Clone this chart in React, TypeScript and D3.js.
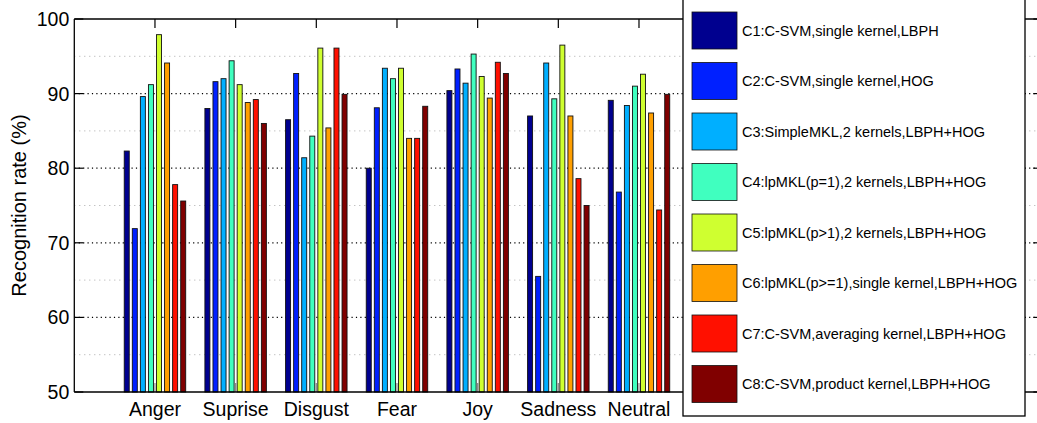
import React from "react";
import * as d3 from "d3";

// emotion categories on the x axis
const categories = ["Anger", "Suprise", "Disgust", "Fear", "Joy", "Sadness", "Neutral"];

// one array per classifier configuration, values in %
const c1 = [82.3, 88.0, 86.5, 80.0, 90.4, 87.0, 89.1];
const c2 = [71.9, 91.6, 92.7, 88.1, 93.3, 65.5, 76.8];
const c3 = [89.6, 92.0, 81.4, 93.4, 91.4, 94.1, 88.4];
const c4 = [91.2, 94.4, 84.3, 92.0, 95.3, 89.3, 91.0];
const c5 = [97.9, 91.2, 96.1, 93.4, 92.3, 96.5, 92.6];
const c6 = [94.1, 88.8, 85.4, 84.0, 89.4, 87.0, 87.4];
const c7 = [77.8, 89.2, 96.1, 84.0, 94.2, 78.6, 74.4];
const c8 = [75.6, 86.0, 89.9, 88.3, 92.7, 75.0, 89.9];
const seriesValues = [c1, c2, c3, c4, c5, c6, c7, c8];

const seriesNames = [
  "C1:C-SVM,single kernel,LBPH",
  "C2:C-SVM,single kernel,HOG",
  "C3:SimpleMKL,2 kernels,LBPH+HOG",
  "C4:lpMKL(p=1),2 kernels,LBPH+HOG",
  "C5:lpMKL(p>1),2 kernels,LBPH+HOG",
  "C6:lpMKL(p>=1),single kernel,LBPH+HOG",
  "C7:C-SVM,averaging kernel,LBPH+HOG",
  "C8:C-SVM,product kernel,LBPH+HOG",
];

// jet colormap samples used by MATLAB for 8 bar series
const seriesColors = ["#00008f", "#0020ff", "#00afff", "#40ffbf", "#cfff30", "#ff9f00", "#ff1000", "#800000"];

const yTicks = [50, 60, 70, 80, 90, 100];
const yMinor = [55, 65, 75, 85, 95];

const W = 1037, H = 423;
const font = "'Liberation Sans', Arial, Helvetica, sans-serif";

export default function App() {
  const left = 74.3, top = 19, bottom = 392;
  const step = 80.67;
  const x = d3.scaleLinear().domain([0, 12]).range([left, left + 12 * step]);
  const y = d3.scaleLinear().domain([50, 100]).range([bottom, top]);
  const right = x(12);

  // grouped bar layout, like MATLAB: group takes 0.8 of a category slot
  const slot = (0.8 * step) / seriesValues.length;
  const barW = slot * 0.62;
  const barX = (ci: number, si: number) =>
    x(ci + 1) - (0.8 * step) / 2 + slot * si + (slot - barW) / 2;

  const tickLen = 9;

  return (
    <svg width={W} height={H} style={{ position: "absolute", left: 0, top: 0, background: "#fff" }} fontFamily={font}>
      <rect x={0} y={0} width={W} height={H} fill="#fff" />

      {/* grid */}
      {yMinor.map((v) => (
        <line key={"mn" + v} x1={left} x2={right} y1={y(v)} y2={y(v)} stroke="#aaa" strokeWidth={1} strokeDasharray="1,4" />
      ))}
      {yTicks.slice(1, -1).map((v) => (
        <line key={"mj" + v} x1={left} x2={right} y1={y(v)} y2={y(v)} stroke="#000" strokeWidth={1.2} strokeDasharray="1.2,3.2" />
      ))}

      {/* bottom ticks (behind bars) */}
      {categories.map((c, i) => (
        <line key={"bt" + c} x1={x(i + 1)} x2={x(i + 1)} y1={bottom} y2={bottom - tickLen} stroke="#888" strokeWidth={1.2} />
      ))}

      {/* bars */}
      {seriesValues.map((vals, si) =>
        vals.map((v, ci) => (
          <rect
            key={si + "-" + ci}
            x={barX(ci, si)}
            y={y(v)}
            width={barW}
            height={bottom - y(v)}
            fill={seriesColors[si]}
            stroke="#111"
            strokeWidth={0.9}
          />
        ))
      )}

      {/* axes box */}
      <line x1={left} x2={right} y1={top} y2={top} stroke="#000" strokeWidth={1.3} />
      <line x1={left} x2={right} y1={bottom} y2={bottom} stroke="#000" strokeWidth={1.3} />
      <line x1={left} x2={left} y1={top} y2={bottom} stroke="#000" strokeWidth={1.3} />
      <line x1={right} x2={right} y1={top} y2={bottom} stroke="#000" strokeWidth={1.3} />

      {/* top ticks */}
      {categories.map((c, i) => (
        <line key={"tt" + c} x1={x(i + 1)} x2={x(i + 1)} y1={top} y2={top + tickLen} stroke="#000" strokeWidth={1.2} />
      ))}

      {/* y ticks, left and right */}
      {yTicks.map((v) => (
        <g key={"yt" + v}>
          <line x1={left} x2={left + tickLen} y1={y(v)} y2={y(v)} stroke="#000" strokeWidth={1.2} />
          <line x1={right} x2={right - tickLen} y1={y(v)} y2={y(v)} stroke="#000" strokeWidth={1.2} />
          <text x={left - 5} y={y(v)} dy="0.36em" textAnchor="end" fontSize={19.5} fill="#000">
            {v}
          </text>
        </g>
      ))}

      {/* category labels */}
      {categories.map((c, i) => (
        <text key={"xl" + c} x={x(i + 1)} y={416} textAnchor="middle" fontSize={19.5} fill="#000">
          {c}
        </text>
      ))}

      {/* y label */}
      <text transform={`translate(26, ${(top + bottom) / 2}) rotate(-90)`} textAnchor="middle" fontSize={20} fill="#000">
        Recognition rate (%)
      </text>

      {/* legend */}
      <rect x={683} y={-2} width={342} height={418} fill="#fff" stroke="#000" strokeWidth={1.3} />
      {seriesNames.map((n, i) => (
        <g key={"lg" + i} transform={`translate(692, ${12 + i * 50.5})`}>
          <rect x={0} y={0} width={45} height={37} fill={seriesColors[i]} stroke="#111" strokeWidth={0.8} />
          <text x={50} y={18.5} dy="0.36em" fontSize={14.5} fill="#000">
            {n}
          </text>
        </g>
      ))}
    </svg>
  );
}
